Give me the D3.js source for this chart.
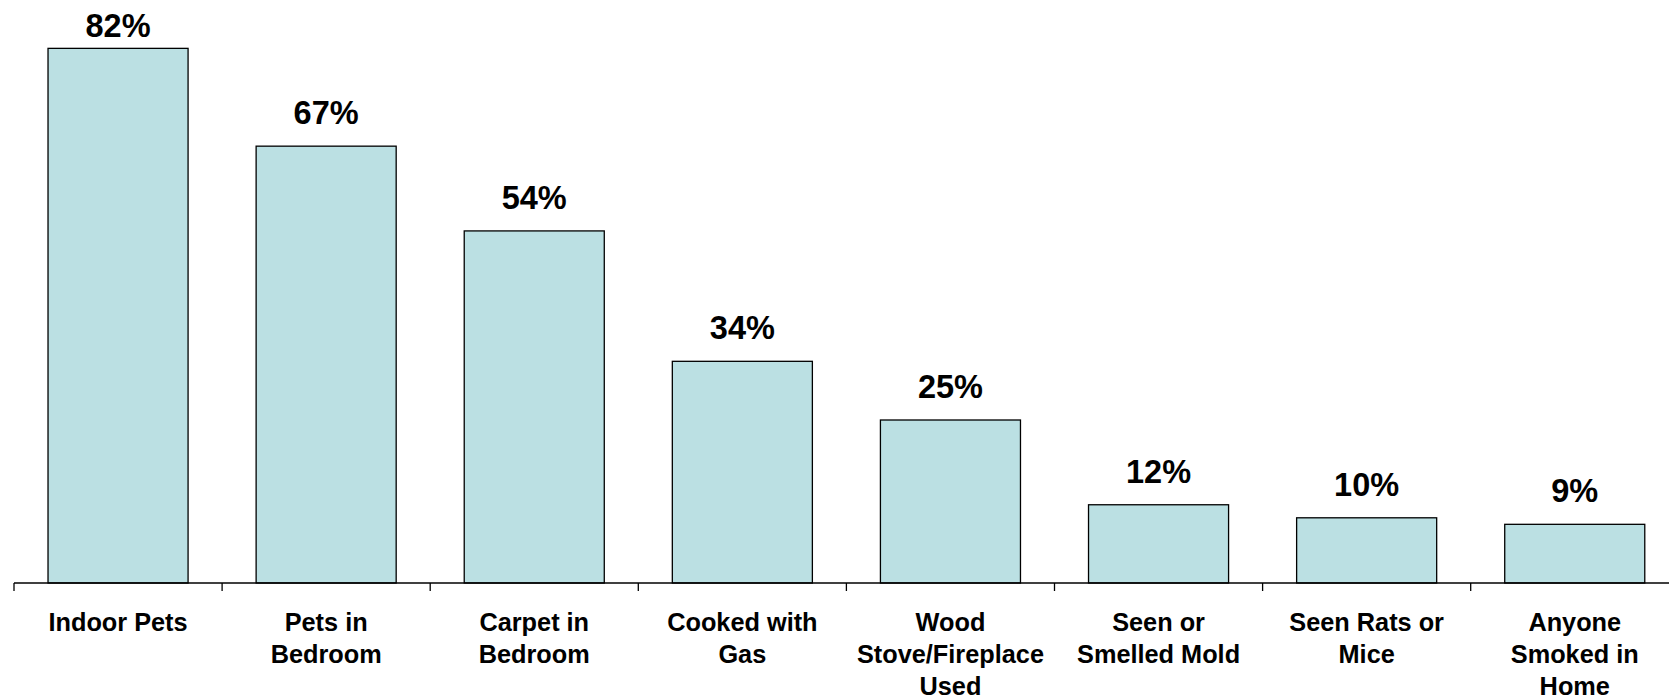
<!DOCTYPE html>
<html>
<head>
<meta charset="utf-8">
<script src="https://cdn.jsdelivr.net/npm/d3@7"></script>
<style>
  html, body { margin: 0; padding: 0; background: #fff; }
  svg { display: block; }
  text { font-family: "Liberation Sans", Arial, sans-serif; font-weight: bold; fill: #000; }
</style>
</head>
<body>
<svg id="chart" width="1669" height="696"></svg>
<script>
const categories = [
  "Indoor Pets",
  "Pets in Bedroom",
  "Carpet in Bedroom",
  "Cooked with Gas",
  "Wood Stove/Fireplace Used",
  "Seen or Smelled Mold",
  "Seen Rats or Mice",
  "Anyone Smoked in Home"
];
const categoryLines = [
  ["Indoor Pets"],
  ["Pets in", "Bedroom"],
  ["Carpet in", "Bedroom"],
  ["Cooked with", "Gas"],
  ["Wood", "Stove/Fireplace", "Used"],
  ["Seen or", "Smelled Mold"],
  ["Seen Rats or", "Mice"],
  ["Anyone", "Smoked in", "Home"]
];
const values = [82, 67, 54, 34, 25, 12, 10, 9];

const svg = d3.select("#chart");
const W = 1669, H = 696;
const baseY = 583;
const left = 14;
const step = 208.1;

const x = d3.scaleBand()
  .domain(categories)
  .range([left, left + step * categories.length])
  .paddingInner(0.327)
  .paddingOuter(0.1635);

const y = d3.scaleLinear()
  .domain([0, 100])
  .range([baseY, baseY - 652]);

// bars
svg.append("g").selectAll("rect")
  .data(values)
  .join("rect")
  .attr("x", (d, i) => x(categories[i]))
  .attr("y", d => y(d))
  .attr("width", x.bandwidth())
  .attr("height", d => baseY - y(d))
  .attr("fill", "#bbe0e3")
  .attr("stroke", "#000")
  .attr("stroke-width", 1.3);

// value labels
svg.append("g").selectAll("text")
  .data(values)
  .join("text")
  .attr("x", (d, i) => x(categories[i]) + x.bandwidth() / 2)
  .attr("y", d => Math.max(y(d) - 22, 37))
  .attr("text-anchor", "middle")
  .attr("font-size", 32.5)
  .text(d => d + "%");

// axis line
svg.append("line")
  .attr("x1", left).attr("x2", W)
  .attr("y1", baseY).attr("y2", baseY)
  .attr("stroke", "#000").attr("stroke-width", 1.3);

// ticks at band boundaries
const tickXs = categories.map(c => x(c) - x.step() * x.paddingOuter());
svg.append("g").selectAll("line")
  .data(tickXs)
  .join("line")
  .attr("x1", d => d).attr("x2", d => d)
  .attr("y1", baseY).attr("y2", baseY + 8)
  .attr("stroke", "#000").attr("stroke-width", 1.3);

// category labels
const lab = svg.append("g").selectAll("text")
  .data(categoryLines)
  .join("text")
  .attr("text-anchor", "middle")
  .attr("font-size", 25.3)
  .attr("transform", (d, i) => `translate(${x(categories[i]) + x.bandwidth() / 2},631)`);
lab.selectAll("tspan")
  .data(d => d)
  .join("tspan")
  .attr("x", 0)
  .attr("y", (d, j) => j * 32)
  .text(d => d);
</script>
</body>
</html>
